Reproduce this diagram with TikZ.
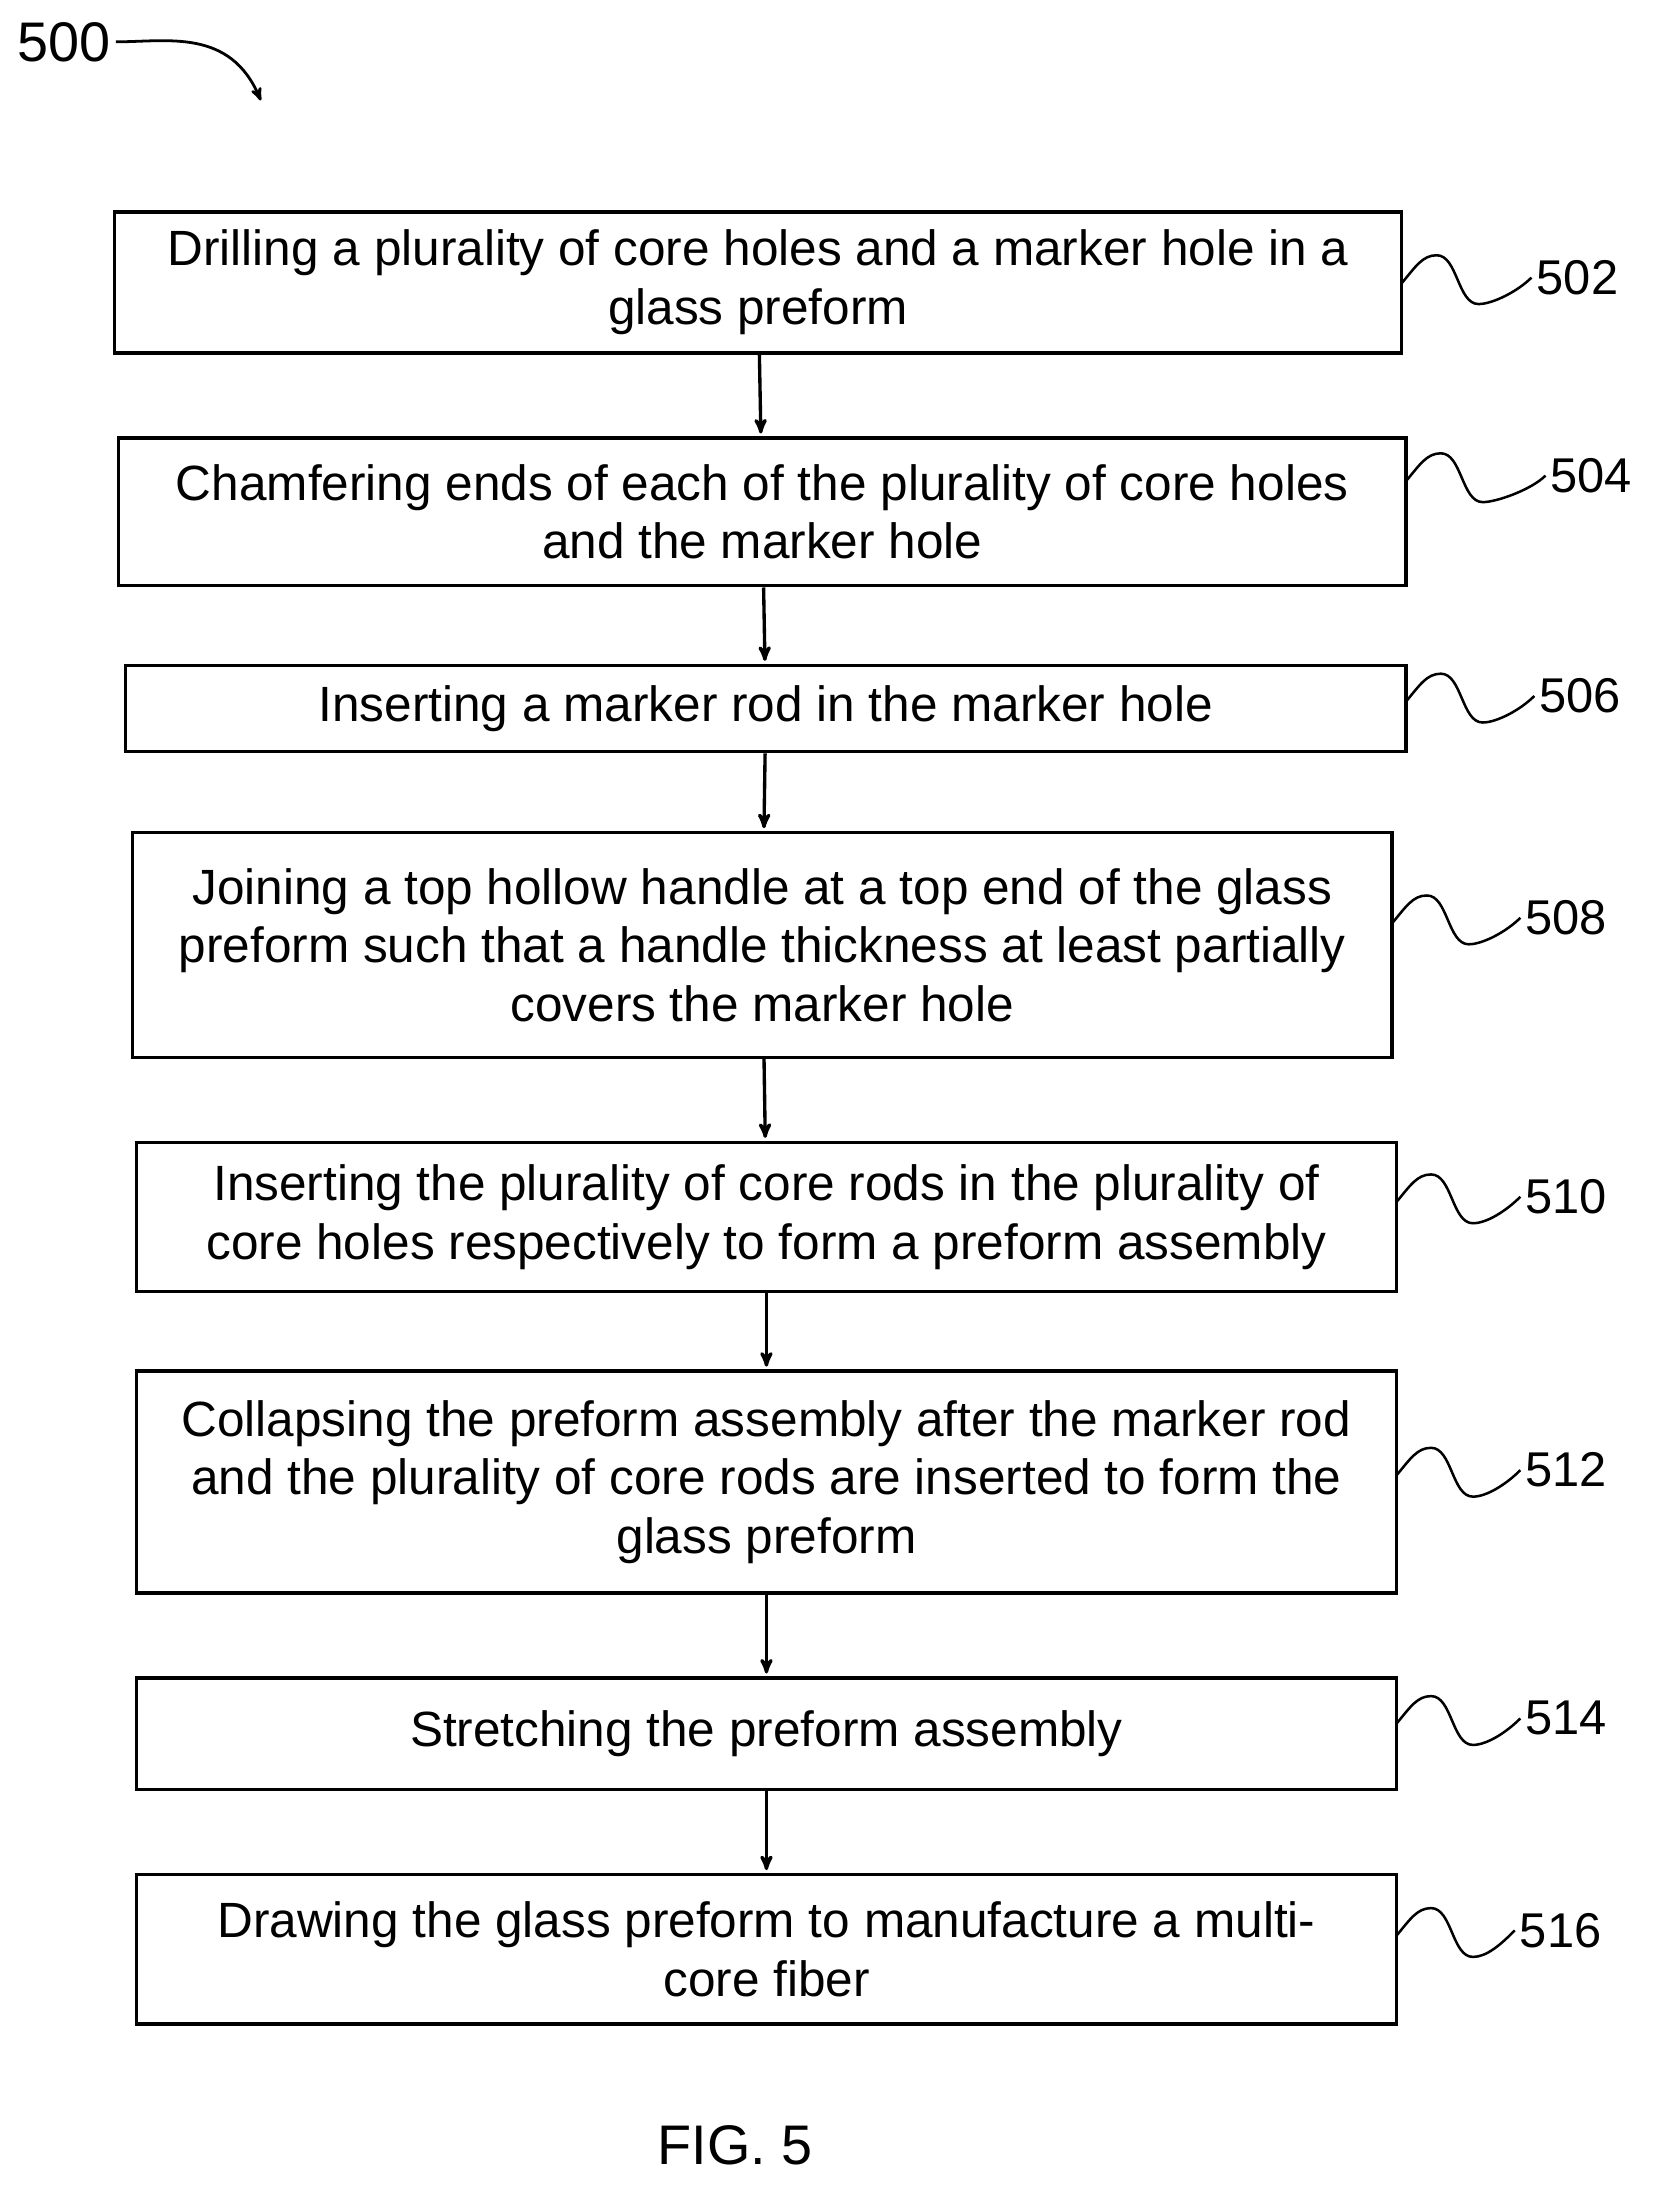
\documentclass[tikz,border=0pt]{standalone}
\usepackage{fontspec}
\setmainfont{Liberation Sans}
\usetikzlibrary{arrows}
\usetikzlibrary{positioning}

\begin{document}
\begin{tikzpicture}[x=1pt,y=-1pt,>=stealth',thick,
  stepbox/.style={draw,line width=2.4pt,align=center,inner sep=0pt,
    font=\fontsize{35.5}{42}\selectfont},
  ref/.style={font=\fontsize{35}{40}\selectfont,anchor=west},
  wave/.style={line width=1.8pt}]
  \useasboundingbox (0,0) rectangle (1190,1578);

  \node[ref,anchor=center,font=\fontsize{40}{44}\selectfont] (500) at (46,30) {500};
  \coordinate (p500) at (187,72);
  \draw[->,line width=2pt] (500.east) .. controls (120,30) and (165,20) .. (p500);

  \node[stepbox,minimum width=923,minimum height=101] (502) at (543.5,202.5)
    {Drilling a plurality of core holes and a marker hole in a\\glass preform};
  \node[stepbox,minimum width=923,minimum height=106] (504) at (546.5,367)
    {Chamfering ends of each of the plurality of core holes\\and the marker hole};
  \node[stepbox,minimum width=918,minimum height=62] (506) at (549,508)
    {Inserting a marker rod in the marker hole};
  \node[stepbox,minimum width=903,minimum height=161] (508) at (546.5,677.5)
    {Joining a top hollow handle at a top end of the glass\\preform such that a handle thickness at least partially\\covers the marker hole};
  \node[stepbox,minimum width=903,minimum height=107] (510) at (549.5,872.5)
    {Inserting the plurality of core rods in the plurality of\\core holes respectively to form a preform assembly};
  \node[stepbox,minimum width=903,minimum height=159] (512) at (549.5,1062.5)
    {Collapsing the preform assembly after the marker rod\\and the plurality of core rods are inserted to form the\\glass preform};
  \node[stepbox,minimum width=903,minimum height=80] (514) at (549.5,1243)
    {Stretching the preform assembly};
  \node[stepbox,minimum width=903,minimum height=107] (516) at (549.5,1397.5)
    {Drawing the glass preform to manufacture a multi-\\core fiber};

  \foreach \a/\b in {502/504,504/506,506/508,508/510,510/512,512/514,514/516}
    \draw[->,line width=2.4pt,shorten >=2pt] (\a) -- (\b);

  % reference numerals
  \foreach \n/\x/\y/\lx in {502/1005/203/1098,504/1008/345/1108,506/1008/503/1100,
      508/998/662/1090,510/1001/862/1090,512/1001/1058/1090,514/1001/1236/1090,516/1001/1388/1086}{
    \node[ref] (l\n) at (\lx,\y-4) {\n};
    \draw[wave] (\x,\y) .. controls +(10,-12) and +(-10,0) .. ++(25,-20)
      .. controls +(15,0) and +(-15,0) .. ++(30,35)
      .. controls +(10,0) and +(-10,10) .. (l\n.west);
  }

  \node[font=\fontsize{40}{44}\selectfont] (fig) at (527,1538) {FIG. 5};
\end{tikzpicture}
\end{document}
